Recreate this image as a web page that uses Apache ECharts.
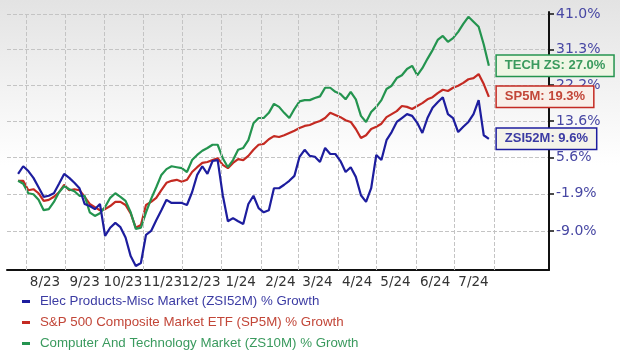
<!DOCTYPE html>
<html>
<head>
<meta charset="utf-8">
<script src="https://cdn.jsdelivr.net/npm/echarts@6/dist/echarts.min.js"></script>
<style>
html,body{margin:0;padding:0;}
body{width:620px;height:357px;background:linear-gradient(to bottom,#e3e3e3 0px,#f1f1f1 80px,#ffffff 165px,#ffffff 357px);}
#chart{width:620px;height:357px;}
</style>
</head>
<body>
<div id="chart"></div>
<script>
// ---- data ----
const startDate = [2023, 6, 26];   // first observation (year, monthIndex, day)
const stepDays = 4;                // spacing between observations

const xTickLabels = ['8/23','9/23','10/23','11/23','12/23','1/24','2/24','3/24','4/24','5/24','6/24','7/24'];
const yTickLabels = ['41.0%','31.3%','22.2%','13.6%','5.6%','-1.9%','-9.0%'];

const seriesNames = [
  'Elec Products-Misc Market (ZSI52M) % Growth',
  'S&P 500 Composite Market ETF (SP5M) % Growth',
  'Computer And Technology Market (ZS10M) % Growth'
];
const calloutTags = ['ZSI52M', 'SP5M', 'TECH ZS'];

// % growth
const elecValues = [2.1,3.7,2.7,1.3,-0.6,-2.5,-2.3,-1.8,0.1,2.1,
  1.3,0.3,-0.8,-3.9,-4.3,-4.9,-3.9,-9.9,-8.4,-7.5,
  -8.3,-10.2,-13.5,-15.2,-14.7,-9.7,-9.0,-7.0,-5.1,-3.1,
  -3.7,-3.7,-3.7,-4.1,-1.6,1.9,3.7,2.1,4.8,5.0,
  -2.2,-7.2,-6.6,-7.2,-7.7,-3.9,-2.3,-4.7,-5.5,-5.1,
  -0.8,-0.8,-0.1,0.7,1.7,5.7,7.2,5.9,5.7,4.6,
  7.6,6.3,6.3,4.8,2.5,3.5,1.5,-2.2,-3.5,-0.8,
  6.1,5.0,9.3,11.1,13.4,14.3,15.2,14.8,13.2,10.9,
  14.3,16.7,18.0,19.2,15.2,14.3,11.1,12.3,13.4,15.2,
  18.5,10.4,9.6];
const spValues = [0.7,0.7,-1.2,-1.0,-1.8,-3.3,-3.1,-2.5,-1.6,-0.1,
  -1.2,-1.0,-1.2,-2.5,-3.9,-4.5,-5.1,-4.9,-4.3,-3.5,
  -3.5,-4.1,-5.7,-8.4,-7.9,-4.1,-3.5,-2.7,-1.2,0.3,
  0.7,0.9,0.5,0.9,2.5,3.5,4.4,4.6,5.0,5.4,
  4.0,3.3,4.4,5.2,5.0,5.9,7.2,8.3,8.5,9.5,
  10.2,10.0,10.4,10.9,11.4,12.0,12.5,12.7,13.2,13.6,
  14.3,15.5,15.0,14.5,13.8,13.4,11.8,9.8,10.4,11.8,
  12.3,13.0,14.5,15.2,15.9,17.1,16.9,16.4,17.1,17.8,
  18.7,19.2,20.2,21.0,20.7,21.5,22.0,22.7,23.6,23.9,
  24.9,22.4,19.3];
const techValues = [0.7,0.1,-1.8,-2.0,-3.1,-5.1,-4.9,-3.5,-1.6,-0.4,
  -1.0,-1.4,-2.3,-2.3,-5.5,-6.2,-5.7,-4.5,-2.7,-1.8,
  -2.5,-3.3,-5.5,-8.6,-8.4,-5.5,-2.9,-0.6,1.9,3.1,
  3.7,3.5,3.3,2.5,5.0,6.1,7.0,7.6,8.3,8.3,
  5.4,3.5,5.0,7.2,7.6,9.3,13.1,14.3,14.3,15.5,
  17.6,16.9,15.5,14.3,16.4,18.2,18.5,18.5,19.0,19.4,
  21.5,21.5,20.5,20.0,18.7,20.5,18.7,14.8,13.4,15.7,
  16.9,18.5,21.2,22.0,23.9,24.6,26.2,27.0,24.6,26.4,
  28.8,31.1,33.8,34.9,33.3,34.3,36.0,38.2,40.2,38.8,
  37.4,32.6,27.0];

// ---- styles ----
const lineColors = ['#1d1d9e', '#c42a22', '#24944f'];
const textColors = ['#3b3ba3', '#c24638', '#3a9a5e'];
const boxFills = ['#f4f3ea', '#f9efe9', '#eef6e4'];
const gridColor = '#c4c4c4';

// ---- build ----
const toLog = g => Math.log(1 + g / 100);
const dateAt = i => new Date(startDate[0], startDate[1], startDate[2] + i * stepDays);
const parseLabel = s => { const p = s.split('/'); return { m: +p[0] - 1, y: 2000 + +p[1] }; };

const labelDates = xTickLabels.map(s => { const p = parseLabel(s); return new Date(p.y, p.m, 16).getTime(); });
const monthStarts = xTickLabels.map(s => { const p = parseLabel(s); return new Date(p.y, p.m, 1).getTime(); });
{ const p = parseLabel(xTickLabels[xTickLabels.length - 1]); monthStarts.push(new Date(p.y, p.m + 1, 1).getTime()); }

const yTickValues = yTickLabels.map(s => toLog(parseFloat(s)));
const yMinLog = Math.log(0.8411);
const yMaxLog = Math.log(1.4157);

const axisStart = new Date(2023, 6, 17, 8).getTime();
const axisEnd = new Date(2024, 8, 13).getTime();

const allValues = [elecValues, spValues, techValues];

function makeSeries(k) {
  return {
    name: seriesNames[k],
    type: 'line',
    showSymbol: false,
    symbol: 'none',
    z: k === 0 ? 5 : (k === 1 ? 3 : 4),
    lineStyle: { color: lineColors[k], width: 2.2 },
    itemStyle: { color: lineColors[k] },
    data: allValues[k].map((g, i) => [dateAt(i).getTime(), toLog(g), g]),
    endLabel: {
      show: true,
      distance: 8,
      formatter: p => calloutTags[k] + ': ' + p.value[2].toFixed(1) + '%',
      backgroundColor: boxFills[k],
      borderColor: lineColors[k],
      borderWidth: 1.5,
      padding: [4, 8, 3, 8],
      fontFamily: 'Liberation Sans',
      fontWeight: 'bold',
      fontSize: 13,
      color: textColors[k]
    },
    animation: false
  };
}

// month-boundary gridlines drawn through the x scale
const monthGridSeries = {
  name: 'monthGrid',
  type: 'line',
  data: [],
  z: 1,
  silent: true,
  markLine: {
    silent: true,
    symbol: ['none', 'none'],
    label: { show: false },
    lineStyle: { type: 'dashed', color: gridColor, width: 1 },
    emphasis: { disabled: true },
    data: monthStarts.map(v => ({ xAxis: v }))
  }
};

const chart = echarts.init(document.getElementById('chart'), null, { renderer: 'canvas' });
chart.setOption({
  animation: false,
  backgroundColor: 'transparent',
  axisPointer: { show: false },
  grid: { show: false, left: 7, right: 71, top: 12, bottom: 87, containLabel: false },
  legend: {
    orient: 'vertical',
    left: 17,
    top: 289,
    icon: 'rect',
    itemWidth: 8,
    itemHeight: 3,
    itemGap: 6,
    selectedMode: false,
    textStyle: { fontFamily: 'Liberation Sans', fontSize: 13.3, lineHeight: 15, padding: [0, 0, 0, 5] },
    data: seriesNames.map((n, k) => ({ name: n, itemStyle: { color: lineColors[k] }, textStyle: { color: textColors[k] } }))
  },
  xAxis: {
    type: 'value',
    min: axisStart,
    max: axisEnd,
    axisLine: { show: true, onZero: false, lineStyle: { color: '#111', width: 2 } },
    axisTick: { show: false },
    splitLine: { show: false },
    minorSplitLine: { show: false },
    splitArea: { show: false },
    axisLabel: {
      customValues: labelDates,
      formatter: v => { const i = labelDates.indexOf(v); return i >= 0 ? xTickLabels[i] : ''; },
      color: '#333',
      fontFamily: 'DejaVu Sans',
      fontSize: 13.5,
      margin: 5,
      hideOverlap: false
    }
  },
  yAxis: {
    type: 'value',
    position: 'right',
    min: yMinLog,
    max: yMaxLog,
    axisLine: { show: true, onZero: false, lineStyle: { color: '#111', width: 2 } },
    axisTick: { show: true, length: 5, customValues: yTickValues, lineStyle: { color: '#111', width: 1.5 } },
    splitLine: { show: true, lineStyle: { type: 'dashed', color: gridColor, width: 1 } },
    splitArea: { show: false },
    axisLabel: {
      customValues: yTickValues,
      formatter: v => {
        let best = 0;
        yTickValues.forEach((t, i) => { if (Math.abs(t - v) < Math.abs(yTickValues[best] - v)) best = i; });
        return yTickLabels[best];
      },
      color: '#4747a3',
      fontFamily: 'DejaVu Sans',
      fontSize: 14,
      margin: 7
    }
  },
  series: [monthGridSeries, makeSeries(0), makeSeries(1), makeSeries(2)]
});
</script>
</body>
</html>
